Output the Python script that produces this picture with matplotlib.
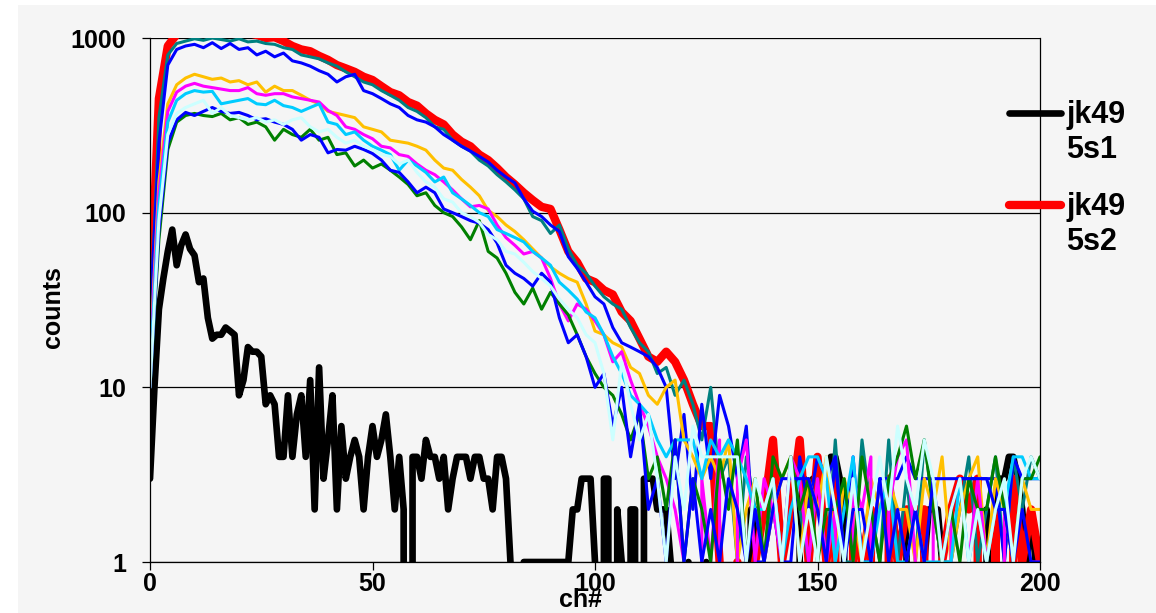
import matplotlib
matplotlib.use("Agg")
import matplotlib.pyplot as plt
from matplotlib.patches import Rectangle
from matplotlib.lines import Line2D
from matplotlib.ticker import NullLocator
import numpy as np

plt.rcParams['font.family'] = ['Liberation Sans', 'DejaVu Sans']

# channel numbers (black run read channel by channel, the others every 2nd channel)
ch_1 = np.arange(0, 201)
ch_2 = np.arange(0, 201, 2)

jk49_5s1 = [3, 10, 28, 42, 60, 80, 50, 65, 75, 62,
            57, 40, 42, 25, 19, 20, 20, 22, 21, 20,
            9, 11, 17, 16, 16, 15, 8, 9, 8, 4,
            4, 9, 4, 7, 9, 4, 11, 2, 13, 3,
            5, 9, 2, 6, 3, 4, 5, 4, 2, 4,
            6, 4, 5, 7, 4, 2, 4, 2, 0, 4,
            4, 3, 5, 4, 4, 3, 4, 2, 3, 4,
            4, 4, 3, 4, 4, 3, 3, 2, 4, 4,
            3, 1, 0, 0, 1, 1, 1, 1, 1, 1,
            1, 1, 1, 1, 1, 2, 2, 3, 3, 3,
            1, 0, 3, 3, 0, 2, 1, 0, 2, 2,
            0, 3, 3, 3, 2, 2, 2, 1, 0, 0,
            0, 1, 0, 0, 0, 1, 0, 0, 0, 0,
            0, 0, 0, 0, 0, 2, 2, 0, 0, 0,
            0, 0, 0, 0, 0, 0, 2, 3, 1, 3,
            2, 3, 3, 4, 4, 3, 2, 0, 0, 0,
            0, 0, 0, 0, 0, 0, 0, 0, 0, 0,
            2, 2, 2, 2, 1, 2, 2, 2, 1, 0,
            0, 0, 0, 0, 0, 0, 0, 0, 2, 1,
            2, 3, 3, 4, 4, 3, 2, 1, 2, 1,
            1]

jk49_5s2 = [28, 450, 900, 1050, 1100, 1100, 1080, 1100, 1090, 1080,
            1060, 1070, 1040, 1000, 1010, 960, 900, 860, 840, 790,
            750, 700, 670, 640, 600, 575, 530, 490, 470, 430,
            410, 370, 340, 320, 280, 255, 240, 215, 200, 180,
            160, 145, 130, 118, 108, 105, 80, 60, 52, 42,
            40, 36, 34, 27, 24, 19, 15, 14, 16, 14,
            11, 8, 6, 6, 1, 0, 1, 0, 1, 2,
            5, 1, 2, 5, 1, 4, 1, 3, 0, 2,
            1, 2, 0, 3, 1, 2, 2, 2, 0, 1,
            2, 3, 2, 3, 0, 2, 0, 3, 1, 2,
            1]

run_teal = [20, 350, 800, 930, 960, 990, 970, 1000, 980, 960,
            990, 950, 960, 930, 920, 880, 860, 800, 780, 760,
            720, 690, 640, 600, 560, 540, 500, 470, 440, 400,
            380, 350, 310, 300, 260, 240, 225, 200, 185, 165,
            150, 135, 120, 95, 90, 76, 85, 62, 50, 45,
            38, 33, 30, 28, 22, 18, 16, 12, 13, 9,
            11, 8, 5, 10, 3, 4, 1, 4, 2, 1,
            3, 1, 4, 2, 1, 3, 1, 5, 1, 1,
            5, 2, 1, 5, 1, 3, 1, 5, 2, 1,
            1, 2, 4, 1, 2, 4, 1, 4, 2, 4,
            3]

run_blue = [25, 250, 700, 860, 900, 920, 880, 940, 870, 930,
            860, 880, 800, 840, 780, 820, 740, 720, 690, 650,
            620, 560, 600, 620, 500, 480, 450, 420, 400, 360,
            340, 330, 310, 280, 260, 240, 225, 210, 195, 175,
            160, 148, 120, 102, 95, 85, 78, 56, 48, 40,
            33, 30, 22, 18, 17, 16, 15, 13, 10, 3,
            7, 2, 8, 3, 9, 6, 3, 6, 1, 1,
            2, 1, 1, 4, 2, 4, 3, 4, 1, 4,
            1, 1, 3, 3, 3, 4, 3, 3, 3, 1,
            2, 3, 3, 3, 3, 3, 1, 4, 3, 3,
            3]

run_gold = [15, 150, 420, 540, 590, 620, 600, 580, 590, 560,
            570, 540, 560, 490, 530, 500, 500, 470, 440, 420,
            380, 370, 360, 350, 310, 300, 290, 260, 255, 250,
            240, 228, 200, 180, 175, 155, 140, 125, 103, 95,
            85, 78, 70, 62, 55, 49, 45, 42, 40, 30,
            21, 20, 18, 17, 13, 12, 9, 8, 10, 11,
            5, 4, 3, 4, 3, 5, 1, 2, 3, 1,
            2, 3, 4, 1, 3, 2, 4, 1, 3, 2,
            1, 3, 2, 3, 2, 2, 1, 3, 2, 4,
            1, 2, 3, 4, 1, 3, 2, 1, 3, 2,
            2]

run_magenta = [14, 130, 380, 490, 530, 550, 530, 520, 510, 500,
               500, 520, 480, 470, 480, 480, 460, 450, 440, 430,
               385, 360, 310, 300, 280, 265, 240, 235, 215, 210,
               190, 175, 165, 150, 135, 120, 108, 110, 105, 85,
               72, 65, 58, 60, 55, 42, 30, 24, 30, 28,
               24, 20, 14, 16, 11, 8, 6, 4, 3, 2,
               1, 0, 3, 1, 5, 0, 3, 5, 1, 3,
               2, 1, 4, 3, 1, 3, 1, 2, 0, 3,
               2, 4, 0, 2, 4, 5, 1, 0, 2, 1,
               2, 0, 1, 3, 1, 0, 2, 1, 0, 1,
               1]

run_sky = [12, 110, 330, 440, 480, 500, 490, 495, 420, 430,
           440, 450, 420, 415, 440, 410, 400, 380, 400, 420,
           330, 320, 280, 290, 260, 240, 228, 215, 175, 200,
           185, 170, 150, 160, 130, 120, 110, 100, 95, 80,
           76, 72, 68, 60, 55, 50, 40, 36, 32, 27,
           25, 20, 15, 12, 9, 8, 7, 5, 4, 5,
           5, 5, 3, 5, 4, 5, 4, 3, 2, 2,
           3, 1, 2, 3, 4, 4, 3, 1, 2, 4,
           1, 1, 2, 3, 1, 1, 2, 1, 1, 1,
           1, 3, 1, 2, 1, 2, 2, 4, 4, 3,
           3]

run_green = [10, 70, 230, 330, 360, 370, 360, 355, 370, 340,
             350, 320, 330, 310, 260, 300, 280, 270, 300, 260,
             270, 215, 220, 185, 200, 180, 190, 175, 160, 145,
             125, 130, 110, 100, 95, 83, 70, 90, 60, 55,
             45, 35, 30, 37, 28, 35, 30, 26, 20, 15,
             12, 10, 9, 7, 5, 7, 3, 4, 2, 5,
             1, 3, 2, 1, 4, 2, 5, 1, 3, 1,
             4, 3, 4, 2, 3, 1, 2, 2, 3, 1,
             4, 2, 1, 3, 4, 6, 3, 5, 2, 1,
             2, 1, 3, 2, 2, 4, 2, 1, 3, 3,
             4]

run_blue2 = [10, 80, 250, 340, 375, 360, 380, 400, 380, 370,
             375, 360, 340, 345, 330, 320, 300, 260, 280, 270,
             220, 230, 228, 240, 230, 218, 200, 175, 170, 150,
             130, 140, 130, 105, 100, 95, 90, 87, 80, 67,
             50, 45, 42, 38, 45, 40, 25, 18, 20, 15,
             10, 12, 6, 10, 4, 8, 2, 3, 1, 5,
             1, 3, 1, 2, 1, 3, 2, 1, 2, 1,
             2, 3, 3, 3, 3, 2, 1, 4, 1, 2,
             2, 1, 3, 1, 2, 1, 2, 1, 3, 3,
             3, 3, 3, 3, 3, 2, 2, 1, 2, 1,
             1]

run_pale = [10, 90, 280, 370, 400, 420, 440, 370, 400, 360,
            350, 340, 350, 330, 340, 320, 340, 350, 310, 290,
            300, 270, 250, 260, 240, 230, 215, 210, 190, 200,
            170, 150, 140, 120, 115, 100, 95, 88, 75, 70,
            60, 58, 52, 46, 42, 38, 32, 28, 25, 20,
            18, 12, 5, 14, 8, 5, 7, 3, 1, 4,
            2, 6, 4, 4, 4, 4, 4, 1, 3, 2,
            3, 1, 4, 1, 2, 1, 4, 2, 1, 3,
            1, 2, 4, 2, 6, 3, 2, 5, 3, 1,
            2, 3, 1, 2, 1, 2, 3, 1, 3, 4,
            3]

W, H = 1156, 613
BG = '#f5f5f5'

fig = plt.figure(figsize=(W / 100, H / 100), dpi=100, facecolor='white')
fig.patches.append(Rectangle((18 / W, 0), 1, 1 - 5 / H, transform=fig.transFigure,
                             facecolor=BG, edgecolor='none', zorder=-10))
ax = fig.add_axes([150 / W, 51 / H, 890 / W, 524 / H])
ax.set_facecolor(BG)

lines = [
    (ch_1, jk49_5s1, 'black', 4.8, 'jk49\n5s1'),
    (ch_2, jk49_5s2, '#ff0000', 6.0, 'jk49\n5s2'),
    (ch_2, run_teal, '#008080', 2.2, None),
    (ch_2, run_blue, '#0000ff', 2.2, None),
    (ch_2, run_gold, '#ffc000', 2.2, None),
    (ch_2, run_magenta, '#ff00ff', 2.2, None),
    (ch_2, run_sky, '#00ccff', 2.2, None),
    (ch_2, run_green, '#008000', 2.2, None),
    (ch_2, run_blue2, '#0000ff', 2.2, None),
    (ch_2, run_pale, '#ccffff', 2.2, None),
]
legend_items = []
for x, y, c, lw, lab in lines:
    ax.plot(x, y, color=c, lw=lw, solid_joinstyle='round', solid_capstyle='round')
    if lab:
        legend_items.append((c, lw, lab))

ax.set_yscale('log')
ax.set_xlim(0, 200)
ax.set_ylim(1, 1000)
ax.set_xticks([0, 50, 100, 150, 200])
ax.set_yticks([1, 10, 100, 1000], labels=['1', '10', '100', '1000'])
ax.yaxis.set_minor_locator(NullLocator())
ax.yaxis.grid(True, color='black', lw=0.9)
ax.set_axisbelow(True)
ax.spines['top'].set_visible(False)
for s in ('left', 'bottom', 'right'):
    ax.spines[s].set_linewidth(0.9)

ax.tick_params(axis='both', direction='out', length=6, width=0.9, labelsize=18)
ax.tick_params(axis='x', pad=1)
ax.tick_params(axis='y', pad=11)
for t in ax.get_xticklabels() + ax.get_yticklabels():
    t.set_fontweight('bold')

ax.set_xlabel('ch#', fontsize=18, fontweight='bold')
ax.xaxis.set_label_coords(0.484, -0.05)
ax.set_ylabel('counts', fontsize=18, fontweight='bold')
ax.yaxis.set_label_coords(-0.095, 0.487)

# legend outside the plot, handle level with the first text line
for i, (c, lw, lab) in enumerate(legend_items):
    yl = 113 + 92 * i
    fig.add_artist(Line2D([1009 / W, 1061 / W], [1 - yl / H] * 2, color=c, lw=lw,
                          solid_capstyle='round'))
    fig.text(1066 / W, 1 - (yl - 13) / H, lab, fontsize=22, fontweight='bold',
             ha='left', va='top', linespacing=1.2)

fig.savefig('out.png', dpi=100, facecolor='white')
